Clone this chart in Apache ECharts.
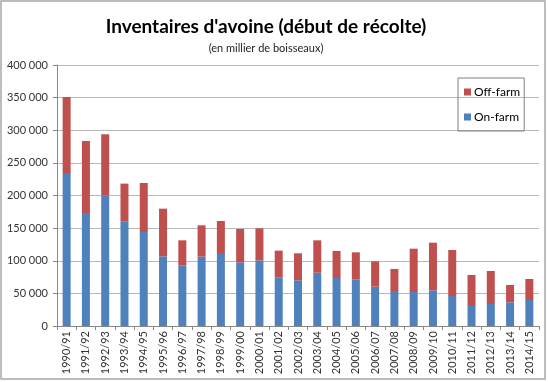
<!DOCTYPE html>
<html>
<head>
<meta charset="utf-8">
<script src="https://cdn.jsdelivr.net/npm/echarts@6/dist/echarts.min.js"></script>
<style>
html,body{margin:0;padding:0;background:#fff;}
#c{width:548px;height:382px;}
</style>
</head>
<body>
<div id="c"></div>
<script>
const categories = ['1990/91','1991/92','1992/93','1993/94','1994/95','1995/96','1996/97','1997/98','1998/99','1999/00','2000/01','2001/02','2002/03','2003/04','2004/05','2005/06','2006/07','2007/08','2008/09','2009/10','2010/11','2011/12','2012/13','2013/14','2014/15'];
const onFarm = [234500,173200,199800,160400,144100,106800,93000,106300,110400,97600,100600,74100,70000,81700,73600,71500,60300,53600,52100,54700,46000,30700,33700,36300,39800];
const offFarm = [116500,110300,94000,57800,75100,73000,38300,48000,50500,51100,49100,41400,41400,49600,41400,41400,38800,33800,66400,73000,70500,47500,50600,26500,32200];
const yTicks = [0,50000,100000,150000,200000,250000,300000,350000,400000];

const fmt = v => String(v).replace(/\B(?=(\d{3})+(?!\d))/g, ' ');
const FONT = 'Lato, "Open Sans", sans-serif';

const chart = echarts.init(document.getElementById('c'), null, {renderer:'canvas'});
chart.setOption({
  animation:false,
  backgroundColor:'#fff',
  title:[
    {text:"Inventaires d'avoine (début de récolte)", left:261, top:12, textAlign:'center',
     textStyle:{fontFamily:FONT, fontSize:19, fontWeight:'bold', color:'#000'}},
    {text:'(en millier de boisseaux)', left:261, top:38, textAlign:'center',
     textStyle:{fontFamily:FONT, fontSize:11, fontWeight:'normal', color:'#222'}}
  ],
  graphic:[{type:'rect', shape:{x:1, y:1, width:544, height:378}, style:{fill:'none', stroke:'#a8a8a8', lineWidth:1.5}, silent:true}],
  legend:{
    data:['Off-farm','On-farm'], orient:'vertical', left:458, top:78, width:71,
    itemWidth:7, itemHeight:7, itemGap:13, icon:'rect',
    padding:[8,4,8,6], borderColor:'#808080', borderWidth:1,
    textStyle:{fontFamily:FONT, fontSize:12, color:'#000', padding:[0,0,0,-2]}
  },
  grid:{left:57, right:9, top:65, bottom:56, containLabel:false},
  xAxis:{
    type:'category', data:categories,
    axisLine:{lineStyle:{color:'#888'}},
    axisTick:{show:true, length:4, alignWithLabel:false, lineStyle:{color:'#888'}},
    axisLabel:{rotate:90, interval:0, fontFamily:FONT, fontSize:11, color:'#333', margin:5}
  },
  yAxis:{
    type:'value', min:0, max:400000, interval:50000,
    axisLine:{show:true, lineStyle:{color:'#888'}},
    axisTick:{show:true, length:4, lineStyle:{color:'#888'}},
    splitLine:{lineStyle:{color:'#b8b8b8'}},
    axisLabel:{fontFamily:FONT, fontSize:11, color:'#333', margin:9, formatter:v=>fmt(v)}
  },
  series:[
    {name:'On-farm', type:'bar', stack:'t', data:onFarm, barWidth:8, itemStyle:{color:'#4F81BD'}},
    {name:'Off-farm', type:'bar', stack:'t', data:offFarm, barWidth:8, itemStyle:{color:'#C0504D'}}
  ]
});
</script>
</body>
</html>
